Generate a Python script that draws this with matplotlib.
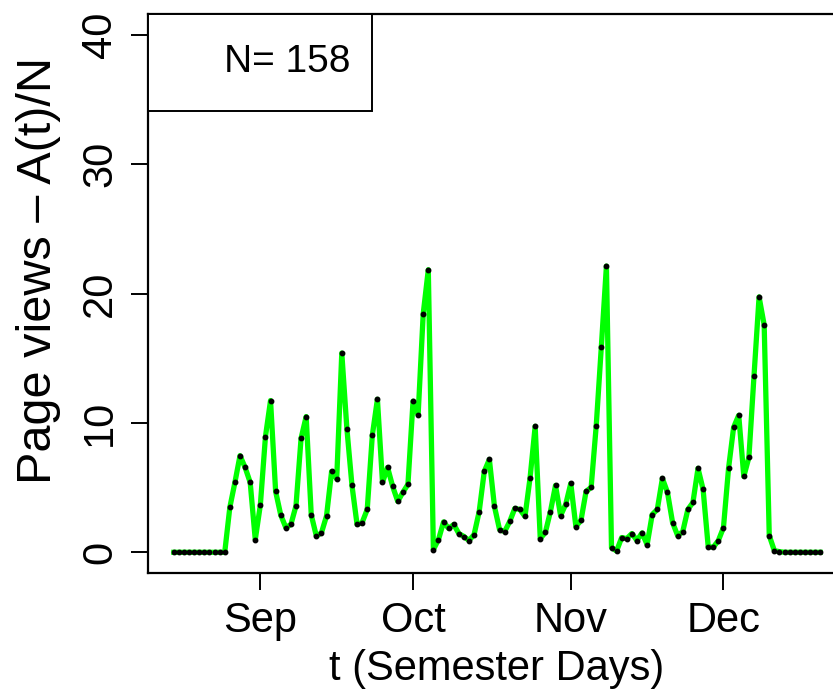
import matplotlib
matplotlib.use("Agg")
import matplotlib.pyplot as plt
import matplotlib.dates as mdates
from matplotlib.patches import Rectangle
import pandas as pd

plt.rcParams['font.family'] = ['Liberation Sans', 'DejaVu Sans']

# daily page views per student, Aug 15 .. Dec 20
days = pd.date_range('2013-08-15', '2013-12-20', freq='D')
views = [
    0, 0, 0, 0, 0, 0, 0, 0, 0, 0, 0,
    3.47, 5.40, 7.47, 6.56, 5.40, 0.98,
    3.67, 8.94, 11.73, 4.70, 2.89, 1.91, 2.15, 3.59, 8.81, 10.49,
    2.89, 1.26, 1.50, 2.81, 6.25, 5.68, 15.40, 9.56, 5.17, 2.15,
    2.30, 3.31, 9.04, 11.83, 5.40, 6.56, 5.09, 3.93, 4.63, 5.25,
    11.68, 10.62, 18.43, 21.84, 0.21, 0.98, 2.35, 1.84, 2.15, 1.45,
    1.22, 0.91, 1.37, 3.15, 6.25, 7.18, 3.54, 1.76, 1.60, 2.38,
    3.39, 3.31, 2.77, 5.76, 9.74, 1.06, 1.53, 3.15, 5.17, 2.84,
    3.70, 5.32, 1.99, 2.46, 4.70, 5.02, 9.79, 15.87, 22.12, 0.36,
    0.10, 1.14, 1.06, 1.45, 0.91, 1.50, 0.59, 2.92, 3.31, 5.71,
    4.63, 2.30, 1.29, 1.60, 3.31, 3.85, 6.49, 4.86, 0.44, 0.39,
    0.91, 1.91, 6.49, 9.66, 10.59, 5.86, 7.34, 13.62, 19.74, 17.57,
    1.29, 0.13, 0.05, 0, 0, 0, 0, 0, 0, 0, 0,
]
n_students = 158
yticks = [0, 10, 20, 30, 40]

fig = plt.figure(figsize=(8.33, 6.97), dpi=100)
ax = fig.add_axes([148 / 833, 124 / 697, 698 / 833, 559 / 697])

ax.plot(days, views, color='#00ff00', linewidth=3.8, zorder=2)
ax.plot(days, views, 'o', color='black', markersize=3.2, zorder=3)

pad = pd.Timedelta(days=5.08)
ax.set_xlim(days[0] - pad, days[-1] + pad)
ax.set_ylim(-1.6, 41.6)

ax.xaxis.set_major_locator(mdates.MonthLocator(bymonth=[9, 10, 11, 12]))
ax.xaxis.set_major_formatter(mdates.DateFormatter('%b'))
ax.set_yticks(yticks)
ax.set_yticklabels([str(v) for v in yticks], rotation=90, va='center')

ax.tick_params(axis='both', length=12, width=1.4, labelsize=30, pad=8)
for s in ax.spines.values():
    s.set_linewidth(1.6)

ax.set_xlabel('t (Semester Days)', fontsize=30, labelpad=6)
ax.set_ylabel('Page views \u2013 A(t)/N', fontsize=35)
ax.yaxis.set_label_coords(-0.125, 0.542)

# legend-style box in the top left corner
box = Rectangle((0, 1 - 0.1735), 0.321, 0.1735, transform=ax.transAxes,
                facecolor='white', edgecolor='black', linewidth=1.4, zorder=4)
ax.add_patch(box)
ax.text(0.29, 1 - 0.0865, 'N= %d' % n_students, transform=ax.transAxes,
        ha='right', va='center', fontsize=28, zorder=5)

fig.savefig('out.png', dpi=100)
